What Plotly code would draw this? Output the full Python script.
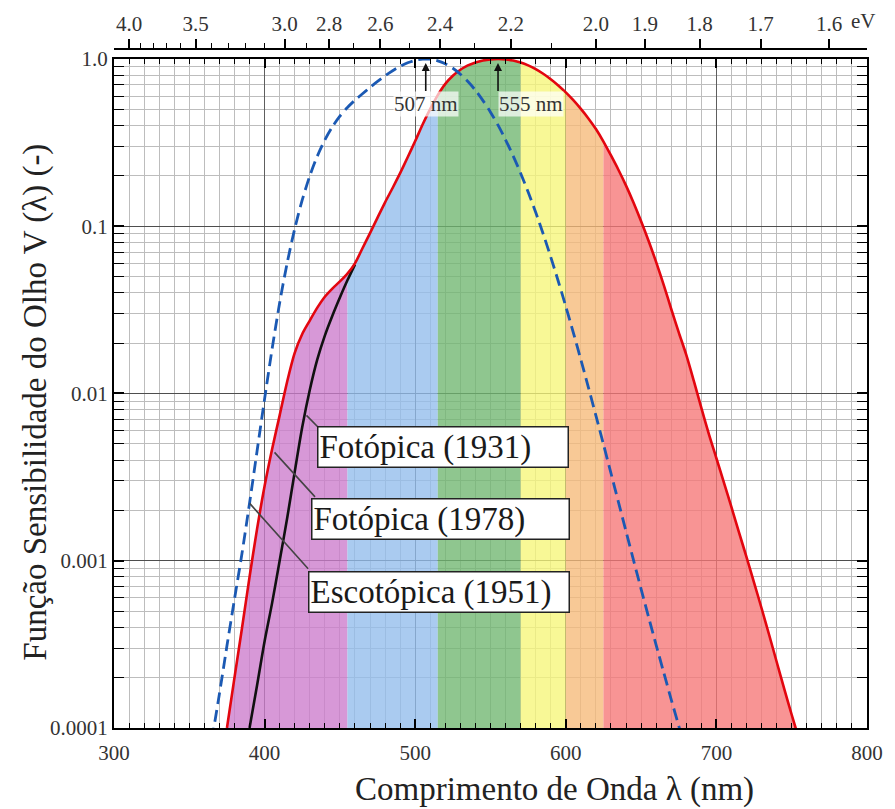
import math
import plotly.graph_objects as go

# ---------------- data ----------------
# Photopic luminous efficiency, 1978 (Judd-Vos modified), 375-755 nm every 5 nm
wl_phot_1978 = list(range(375, 760, 5))
v_phot_1978 = [
    1.0e-4, 2.0e-4, 3.96e-4, 8.0e-4, 1.55e-3, 2.8e-3, 4.66e-3, 7.4e-3, 0.0118, 0.0175,
    0.0227, 0.0273, 0.0326, 0.0379, 0.0424, 0.0468, 0.0521, 0.0600, 0.0739, 0.0910,
    0.1126, 0.1390, 0.1693, 0.2080, 0.2586, 0.3230, 0.4073, 0.5030, 0.6082, 0.7100,
    0.7932, 0.8620, 0.9149, 0.9540, 0.9803, 0.9950, 1.0000, 0.9950, 0.9786, 0.9520,
    0.9154, 0.8700, 0.8163, 0.7570, 0.6949, 0.6310, 0.5668, 0.5030, 0.4412, 0.3810,
    0.3210, 0.2650, 0.2170, 0.1750, 0.1382, 0.1070, 0.0816, 0.0610, 0.0446, 0.0320,
    0.0232, 0.0170, 0.0119, 0.00821, 0.00572, 0.00410, 0.00293, 0.00209, 0.00148, 0.00105,
    0.00074, 0.00052, 0.000361, 0.000249, 0.000172, 0.00012, 0.000085,
]

# Photopic 1931 (only the short-wavelength branch differs from 1978)
wl_phot_1931 = list(range(390, 465, 5))
v_phot_1931 = [
    1.0e-4, 1.8e-4, 3.3e-4, 5.6e-4, 1.0e-3, 1.8e-3, 3.4e-3, 6.3e-3,
    0.0105, 0.0160, 0.0222, 0.0292, 0.0375, 0.0475, 0.0590,
]

# Scotopic 1951, 365-680 nm every 5 nm
wl_scot_1951 = list(range(365, 685, 5))
v_scot_1951 = [
    0.85e-4, 1.6e-4, 3.1e-4, 5.89e-4, 1.108e-3, 2.209e-3, 4.53e-3, 9.29e-3, 0.01852, 0.03484,
    0.0604, 0.0966, 0.1436, 0.1998, 0.2625, 0.3281, 0.3931, 0.455, 0.513, 0.567,
    0.620, 0.676, 0.734, 0.793, 0.851, 0.904, 0.949, 0.982, 0.998, 0.997,
    0.975, 0.935, 0.880, 0.811, 0.733, 0.650, 0.564, 0.481, 0.402, 0.3288,
    0.2639, 0.2076, 0.1602, 0.1212, 0.0899, 0.0655, 0.0469, 0.03315, 0.02312, 0.01593,
    0.01088, 0.00737, 0.00497, 0.003335, 0.002235, 0.001497, 0.001005, 0.000677, 0.000459, 0.000313,
    0.000215, 0.000148, 0.000103, 0.0000715,
]

# Spectral colour bands under the photopic curve (edges in nm)
band_edges = [375, 455, 515, 570, 600, 625, 755]
band_colors = [
    "rgba(204,123,204,0.78)",   # violet
    "rgba(146,188,236,0.78)",   # blue
    "rgba(112,182,112,0.78)",   # green
    "rgba(246,246,120,0.78)",   # yellow
    "rgba(246,186,120,0.78)",   # orange
    "rgba(246,118,118,0.78)",   # red
]

# Top axis: photon energy (eV)
ev_major = [4.0, 3.5, 3.0, 2.8, 2.6, 2.4, 2.2, 2.0, 1.9, 1.8, 1.7, 1.6]
ev_major_text = ["4.0", "3.5", "3.0", "2.8", "2.6", "2.4", "2.2", "2.0", "1.9", "1.8", "1.7", "1.6"]
ev_minor = [3.9, 3.8, 3.7, 3.6, 3.4, 3.3, 3.2, 3.1, 2.9, 2.7, 2.5, 2.3, 2.1]
HC = 1239.84  # eV*nm

y_ticks = [1e-4, 1e-3, 1e-2, 1e-1, 1.0]
y_ticktext = ["0.0001", "0.001", "0.01", "0.1", "1.0"]
x_ticks = [300, 400, 500, 600, 700, 800]

SERIF = "Liberation Serif"
YMIN = 1e-4

fig = go.Figure()

# coloured fills under the 1978 photopic curve
for i, col in enumerate(band_colors):
    lo, hi = band_edges[i], band_edges[i + 1]
    xs = [w for w in wl_phot_1978 if lo <= w <= hi]
    ys = [v for w, v in zip(wl_phot_1978, v_phot_1978) if lo <= w <= hi]
    fig.add_trace(go.Scatter(
        x=xs + [xs[-1], xs[0]], y=ys + [YMIN, YMIN],
        mode="lines", fill="toself", fillcolor=col,
        line=dict(width=0), hoverinfo="skip", showlegend=False,
    ))

# photopic 1931 (black)
fig.add_trace(go.Scatter(
    x=wl_phot_1931, y=v_phot_1931, mode="lines",
    line=dict(color="#111111", width=2.6, shape="spline", smoothing=0.8),
    name="Fotópica (1931)", showlegend=False,
))

# photopic 1978 (red)
fig.add_trace(go.Scatter(
    x=wl_phot_1978, y=v_phot_1978, mode="lines",
    line=dict(color="#e3060f", width=2.6, shape="spline", smoothing=0.8),
    name="Fotópica (1978)", showlegend=False,
))

# scotopic 1951 (blue dashed) – on the wavelength axis shared with the eV scale
fig.add_trace(go.Scatter(
    x=wl_scot_1951, y=v_scot_1951, mode="lines", xaxis="x2", yaxis="y",
    line=dict(color="#1b59b3", width=2.8, dash="12px,6px", shape="spline", smoothing=0.8),
    name="Escotópica (1951)", showlegend=False,
))

tickfont = dict(family=SERIF, size=21, color="#333333")

fig.update_layout(
    width=895, height=809,
    margin=dict(l=114, r=26, t=48, b=81),
    paper_bgcolor="white", plot_bgcolor="white",
    font=dict(family=SERIF, color="#222222"),
    xaxis=dict(
        range=[300, 800], tickmode="array", tickvals=x_ticks,
        ticks="inside", ticklen=9, tickwidth=1.5, tickcolor="black",
        showline=True, linewidth=2, linecolor="black", mirror="allticks",
        showgrid=True, gridcolor="#5e5e5e", gridwidth=1.2, zeroline=False,
        minor=dict(dtick=10, tick0=300, ticks="inside", ticklen=5, tickwidth=1.2,
                   tickcolor="black", showgrid=True, gridcolor="#bdbdbd", gridwidth=1),
        tickfont=tickfont, ticklabelstandoff=5,
    ),
    xaxis2=dict(
        overlaying="x", side="top", anchor="free", position=1.0,
        range=[300, 800], tickmode="array",
        tickvals=[HC / e for e in ev_major], ticktext=ev_major_text,
        ticks="outside", ticklen=9, tickwidth=1.5, tickcolor="black",
        showline=True, linewidth=2, linecolor="black", showgrid=False, zeroline=False,
        minor=dict(tickvals=[HC / e for e in ev_minor], ticks="outside",
                   ticklen=5, tickwidth=1.2, tickcolor="black", showgrid=False),
        tickfont=tickfont,
    ),
    yaxis=dict(
        type="log", range=[-4, 0], domain=[0, 670 / 680],
        tickmode="array", tickvals=y_ticks, ticktext=y_ticktext,
        ticks="inside", ticklen=10, tickwidth=1.5, tickcolor="black",
        showline=True, linewidth=2, linecolor="black", mirror="allticks",
        showgrid=True, gridcolor="#4e4e4e", gridwidth=1.2, zeroline=False,
        minor=dict(tickvals=[k * 10 ** e for e in range(-4, 0) for k in range(2, 10)],
                   ticks="inside", ticklen=6, tickwidth=1.2, tickcolor="black",
                   showgrid=True, gridcolor="#bdbdbd", gridwidth=1),
        tickfont=tickfont,
    ),
)

annotations = []

# peak markers
for peak, anchor in ((507, "center"), (555, "left")):
    annotations.append(dict(
        x=peak, y=math.log10(0.945), xref="x", yref="y", text=f"{peak} nm",
        showarrow=True, ax=0, ay=28, arrowhead=2, arrowsize=1, arrowwidth=1.6,
        arrowcolor="#111111", xanchor=anchor, yanchor="top",
        font=dict(family=SERIF, size=21, color="#333333"),
        bgcolor="rgba(255,255,255,0.7)", borderpad=0,
    ))

# curve labels with leader lines
labels = [
    ("Fotópica (1931)", 435.1, -2.322, 247, (427.8, -2.131), (436.4, -2.209)),
    ("Fotópica (1978)", 430.5, -2.752, 254, (406.6, -2.352), (434.4, -2.627)),
    ("Escotópica (1951)", 428.5, -3.188, 257, (390.1, -2.657), (429.8, -3.057)),
]
for text, lx, ly, w, tip, tail in labels:
    annotations.append(dict(
        x=tip[0], y=tip[1], xref="x", yref="y", text="",
        showarrow=True, ax=tail[0], ay=tail[1], axref="x", ayref="y",
        arrowhead=0, arrowwidth=1.6, arrowcolor="#444444",
    ))
    annotations.append(dict(
        x=lx, y=ly, xref="x", yref="y", text=text, showarrow=False,
        xanchor="left", yanchor="middle", align="left", width=w,
        font=dict(family=SERIF, size=33, color="#1a1a1a"),
        bgcolor="white", bordercolor="#222222", borderwidth=1.5, borderpad=1,
    ))

# unit on the energy axis
annotations.append(dict(
    x=(851 - 114) / 755, y=1 + 28 / 680, xref="paper", yref="paper", text="eV",
    showarrow=False, xanchor="left", yanchor="middle",
    font=dict(family=SERIF, size=21, color="#333333"),
))

# axis titles
annotations.append(dict(
    x=(556 - 114) / 755, y=-(790 - 728) / 680, xref="paper", yref="paper",
    text="Comprimento de Onda λ (nm)", showarrow=False,
    xanchor="center", yanchor="middle",
    font=dict(family=SERIF, size=33, color="#222222"),
))
annotations.append(dict(
    x=(35 - 114) / 755, y=(728 - 402) / 680, xref="paper", yref="paper",
    text="Função Sensibilidade do Olho V (λ) (-)", showarrow=False, textangle=-90,
    xanchor="center", yanchor="middle",
    font=dict(family=SERIF, size=33, color="#222222"),
))

fig.update_layout(annotations=annotations)

fig.write_html("out.html")
